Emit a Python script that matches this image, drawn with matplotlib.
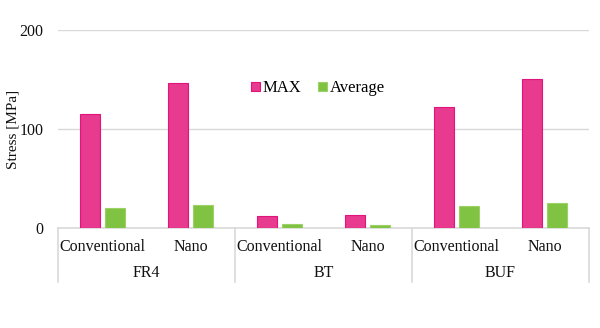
import matplotlib
matplotlib.use("Agg")
import matplotlib.pyplot as plt
import matplotlib.transforms as mtransforms
import numpy as np

groups = ["FR4", "BT", "BUF"]
types = ["Conventional", "Nano"]
max_stress = [115, 146, 12.5, 13, 122, 151]
avg_stress = [20, 23, 4, 3, 22, 25]

PINK = "#E83A8E"
GREEN = "#80C342"
TXT = "#111111"

plt.rcParams['font.family'] = ['Liberation Serif', 'DejaVu Serif']

fig = plt.figure(figsize=(6, 3.28), dpi=100)
ax = fig.add_axes([58 / 600, 1 - 228 / 328, 531 / 600, 198 / 328])

x = np.arange(len(max_stress))
w = 0.225
ax.bar(x - 0.14, max_stress, w, color=PINK, edgecolor="#E0147D", linewidth=0.8, label="MAX", zorder=3)
ax.bar(x + 0.14, avg_stress, w, color=GREEN, edgecolor="#9DD066", linewidth=0.8, label="Average", zorder=3)

ax.set_xlim(-0.5, 5.5)
ax.set_ylim(0, 200)
ax.set_yticks([0, 100, 200])
ax.tick_params(axis="y", length=0, labelsize=11.5, pad=10.5, colors=TXT)
ax.tick_params(axis="x", length=0, labelbottom=False)
ax.yaxis.grid(True, color="#D9D9D9", linewidth=1)
ax.set_axisbelow(True)
for s in ["top", "right", "left"]:
    ax.spines[s].set_visible(False)
ax.spines["bottom"].set_color("#D9D9D9")
ax.spines["bottom"].set_linewidth(1.2)

ax.set_ylabel("Stress [MPa]", fontsize=11, color=TXT)
ax.yaxis.set_label_coords(-0.072, 0.5)

# two-level category axis
trans = mtransforms.blended_transform_factory(ax.transData, ax.transAxes)
for i in range(len(max_stress)):
    ax.text(i, -0.095, types[i % 2], transform=trans, ha="center", va="center",
            fontsize=11.5, color=TXT)
for g, name in enumerate(groups):
    ax.text(2 * g + 0.5, -0.228, name, transform=trans, ha="center", va="center",
            fontsize=11.5, color=TXT)
for xs in [-0.5, 1.5, 3.5, 5.5]:
    ax.plot([xs, xs], [0, -0.273], transform=trans, color="#D9D9D9",
            linewidth=1.2, clip_on=False)

ax.legend(loc="center", bbox_to_anchor=(0.49, 0.705), ncol=2, frameon=False,
          fontsize=12, handlelength=0.5, handleheight=0.5, handletextpad=0.2,
          columnspacing=1.0)

fig.savefig("out.png", dpi=100)
